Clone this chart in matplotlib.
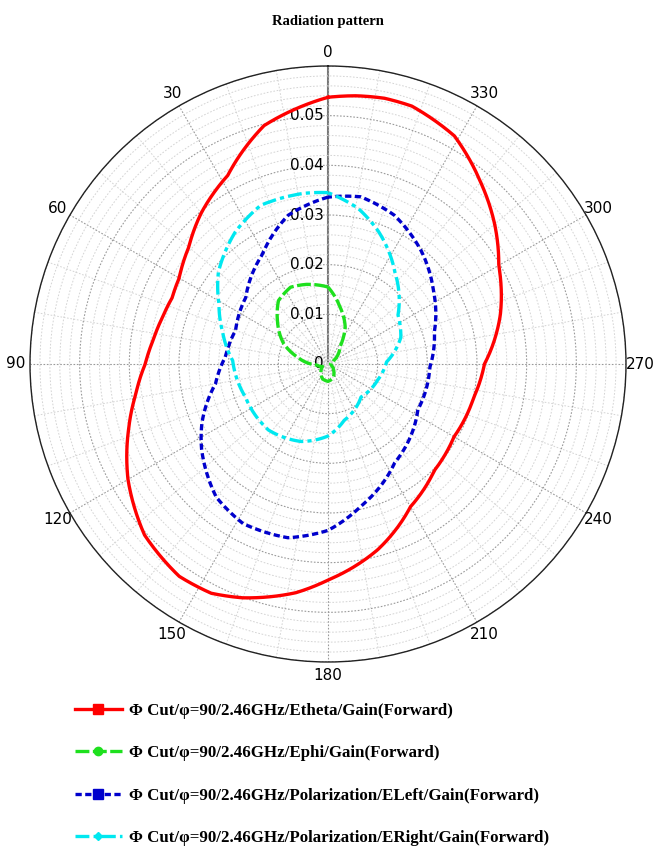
import numpy as np
import matplotlib
matplotlib.use("Agg")
import matplotlib.pyplot as plt
from matplotlib.lines import Line2D
import matplotlib.transforms as mtransforms

plt.rcParams['lines.scale_dashes'] = False

# ---- data: angle (deg) -> gain (linear) ----
etheta_deg = [0, 15, 28, 40, 50, 60, 67, 74, 82, 90, 99, 108, 120, 133, 145, 153, 160, 172,
              180, 195, 210, 225, 240, 257, 270, 286, 300, 310, 320, 331, 342, 348, 354]
etheta_gain = [0.0537, 0.0497, 0.0430, 0.0397, 0.0366, 0.0346, 0.0341, 0.0346, 0.0355, 0.0368,
               0.0392, 0.0422, 0.0465, 0.0505, 0.0522, 0.0518, 0.0501, 0.0465,
               0.0435, 0.0387, 0.0332, 0.0303, 0.0293, 0.0301, 0.0315, 0.0361, 0.0397, 0.0438,
               0.0478, 0.0525, 0.0546, 0.0547, 0.0543]

ephi_deg = [0, 15, 26, 38, 49, 65, 77, 95, 115, 135, 160, 180, 200, 220, 245, 270, 300,
            325, 335, 348]
ephi_gain = [0.0155, 0.0166, 0.0172, 0.0162, 0.0135, 0.0099, 0.0064, 0.0023, 0.0012, 0.0020,
             0.0032, 0.0035, 0.0030, 0.0018, 0.0008, 0.0005, 0.0012, 0.0042, 0.0082, 0.0117]

eleft_deg = [0, 15, 31, 51, 70, 86, 100, 115, 124, 140, 152, 167, 180, 193, 214, 243, 268,
             287, 305, 320, 336, 349]
eleft_gain = [0.0336, 0.0310, 0.0257, 0.0213, 0.0198, 0.0207, 0.0230, 0.0280, 0.0307, 0.0350,
              0.0364, 0.0359, 0.0335, 0.0294, 0.0240, 0.0203, 0.0205, 0.0224, 0.0259, 0.0294,
              0.0328, 0.0343]

eright_deg = [0, 8, 23, 35, 50, 61, 73, 88, 112, 138, 161, 180, 196, 225, 252, 272, 290,
              305, 324, 339, 349]
eright_gain = [0.0345, 0.0347, 0.0347, 0.0325, 0.0288, 0.0251, 0.0222, 0.0192, 0.0179, 0.0179,
               0.0165, 0.0145, 0.0118, 0.0094, 0.0105, 0.0118, 0.0156, 0.0172, 0.0229, 0.0285,
               0.0319]

series_labels = [
    "\u03a6 Cut/\u03c6=90/2.46GHz/Etheta/Gain(Forward)",
    "\u03a6 Cut/\u03c6=90/2.46GHz/Ephi/Gain(Forward)",
    "\u03a6 Cut/\u03c6=90/2.46GHz/Polarization/ELeft/Gain(Forward)",
    "\u03a6 Cut/\u03c6=90/2.46GHz/Polarization/ERight/Gain(Forward)",
]

r_ticks = [0, 0.01, 0.02, 0.03, 0.04, 0.05]
r_max = 0.06
theta_major = list(range(0, 360, 30))
theta_minor = list(range(0, 360, 10))

narrow = ['Liberation Sans Narrow', 'DejaVu Sans']
serif_bold = dict(family=['Liberation Serif', 'DejaVu Serif'], weight='bold')

fig = plt.figure(figsize=(6.58, 8.48), dpi=100)
W, H = 658, 848
cx, cy, R = 328, 364, 298
ax = fig.add_axes([(cx - R) / W, (H - cy - R) / H, 2 * R / W, 2 * R / H],
                  projection='polar')
ax.set_theta_zero_location('N')
ax.set_theta_direction(1)
ax.set_rlim(0, r_max)

# grids
ax.set_xticks(np.deg2rad(theta_major))
ax.set_xticklabels([str(a) for a in theta_major], family=narrow, fontsize=11)
ax.set_xticks(np.deg2rad(theta_minor), minor=True)
ax.set_yticks(r_ticks[1:] + [r_max])
ax.set_yticks(np.arange(0.002, r_max, 0.002), minor=True)
ax.set_yticklabels([])
ax.tick_params(axis='x', which='major', pad=3, length=0)
ax.tick_params(axis='both', which='minor', length=0)
ax.grid(which='major', color='#9a9a9a', linestyle=(0, (1.2, 1.2)), linewidth=0.8)
ax.grid(which='minor', color='#d4d4d4', linestyle=(0, (1.2, 1.2)), linewidth=0.7)
ax.spines['polar'].set_color('#222222')
ax.spines['polar'].set_linewidth(1.0)
ax.axvline(0, color='#777777', linewidth=1.5, zorder=1.5)

# radial value labels along the 0 direction
off = mtransforms.ScaledTranslation(-4 / 100, 0, fig.dpi_scale_trans)
for rv in r_ticks:
    ax.text(0, rv, f"{rv:g}", ha='right', va='center', fontsize=11, family=narrow,
            transform=ax.transData + off, zorder=3)


def closed(deg, vals):
    # wrap forward through 360 so the last segment closes the loop the short way
    th = np.deg2rad(list(deg) + [deg[0] + 360])
    return th, list(vals) + [vals[0]]


styles = [
    dict(color='#ff0000', linestyle='-'),
    dict(color='#1ee01e', linestyle=(0, (10, 2.5))),
    dict(color='#0000cc', linestyle=(0, (4.5, 2.5))),
    dict(color='#00e8f0', linestyle=(0, (10, 3, 3, 3))),
]
markers = [('s', 7), ('o', 6), ('s', 7), ('D', 4)]
data = [(etheta_deg, etheta_gain), (ephi_deg, ephi_gain),
        (eleft_deg, eleft_gain), (eright_deg, eright_gain)]

for (deg, vals), st in zip(data, styles):
    th, rr = closed(deg, vals)
    ln, = ax.plot(th, rr, linewidth=2.4, zorder=4, **st)
    # follow the polar grid between samples instead of straight chords
    ln.get_path()._interpolation_steps = 40

fig.text(cx / W, 1 - 22 / H, "Radiation pattern", ha='center', va='center',
         fontsize=10.5, **serif_bold)

handles = [Line2D([], [], linewidth=2.4, marker=m, markersize=ms, **st)
           for st, (m, ms) in zip(styles, markers)]
fig.legend(handles, series_labels, loc='upper left', bbox_to_anchor=(75 / W, 1 - 703 / H),
           frameon=False, handlelength=2.75, handletextpad=0.45, labelspacing=1.55,
           borderaxespad=0, borderpad=0, numpoints=1,
           prop=dict(family=['Liberation Serif', 'DejaVu Serif'], weight='bold', size=12.2))

fig.savefig('out.png', dpi=100, facecolor='white')
